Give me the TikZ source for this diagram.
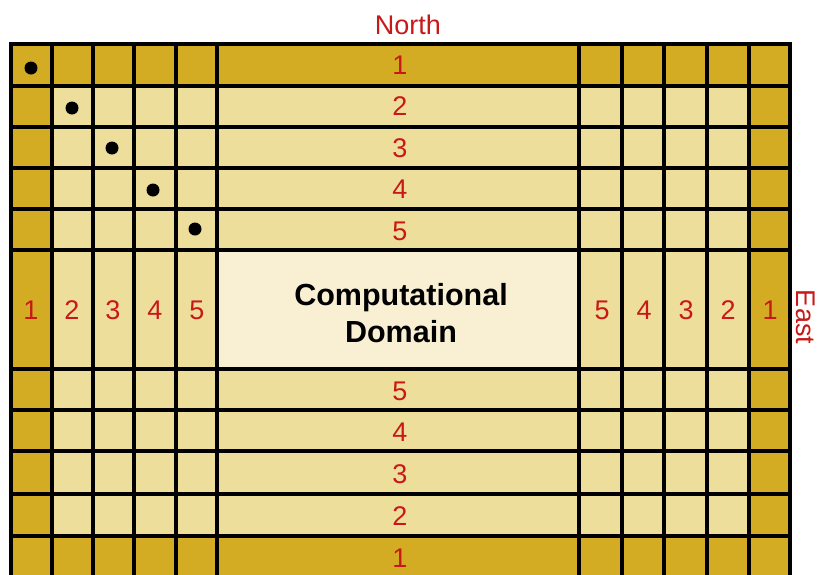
\documentclass[tikz,border=0pt]{standalone}
\usepackage{fontspec}
\setmainfont{Liberation Sans}
\usepackage{xcolor}
\definecolor{ghostdark}{RGB}{211, 172, 36}
\definecolor{ghostlight}{RGB}{238, 222, 156}
\definecolor{domainfill}{RGB}{249, 240, 211}
\definecolor{ghostred}{RGB}{200, 24, 24}
\usetikzlibrary{positioning}

\begin{document}
\begin{tikzpicture}[x=1pt, y=-1pt,
    gridline/.style={line width=3.5pt, line cap=rect},
    layer/.style={text=ghostred, font=\fontsize{27}{30}\selectfont, inner sep=0pt},
    cellmark/.style={circle, fill=black, inner sep=0pt, minimum size=13pt}]
    \clip (0,0) rectangle (819,574);
    
    % Ghost cell layers
    \fill[ghostdark] (11,44) rectangle (790,578);
    \fill[ghostlight] (52,86) rectangle (749,536);
    \fill[domainfill] (217,250) rectangle (579,369);
    
    % Grid
    \foreach \x in {11,52,93,134,176,217,579,622,664,707,749,790}
        \draw[gridline] (\x,44) -- (\x,578);
    \foreach \y in {44,86,127,168,209,250,369,410,451,494,536}
        \draw[gridline] (11,\y) -- (790,\y);
    
    % Diagonal marks
    \foreach \i/\x/\y in {1/31/68, 2/72/108, 3/112/148, 4/153/190, 5/195/229}
        \node[cellmark] (mark\i) at (\x,\y) {};
    
    % Layer numbers
    \foreach \i/\y in {1/65,2/106,3/148,4/189,5/231}
        \node[layer] (north\i) at (400,\y) {\i};
    \foreach \i/\y in {5/391,4/432,3/474,2/516,1/558}
        \node[layer] (south\i) at (400,\y) {\i};
    \foreach \i/\x in {1/31,2/72,3/113,4/155,5/197}
        \node[layer] (west\i) at (\x,310) {\i};
    \foreach \i/\x in {5/602,4/644,3/686,2/728,1/770}
        \node[layer] (east\i) at (\x,310) {\i};
    
    % Labels
    \node[font=\bfseries\fontsize{30.5}{37}\selectfont, align=center] (domain) at (401,313) {Computational\\Domain};
    \node[layer] (north) at (408,25) {North};
    \node[layer, rotate=-90] (east) at (806,317) {East};
\end{tikzpicture}
\end{document}
